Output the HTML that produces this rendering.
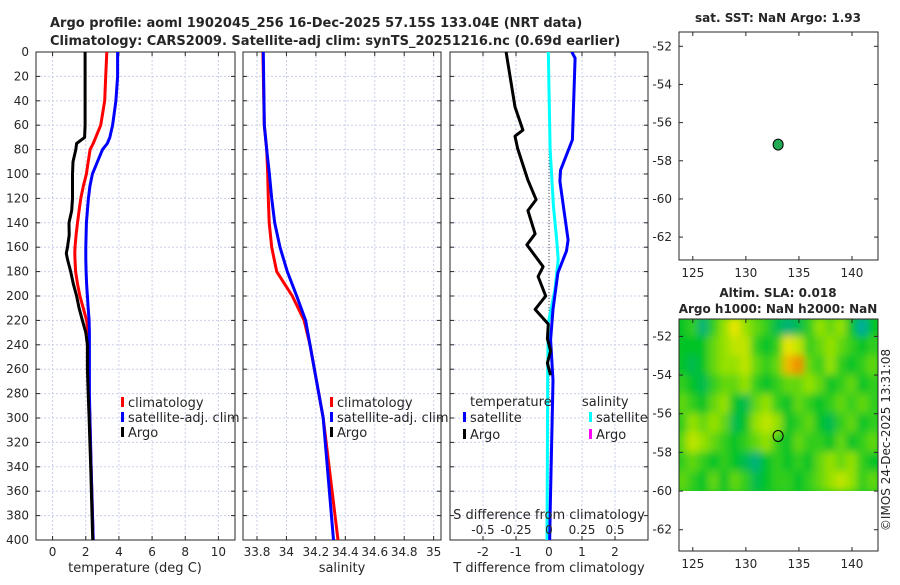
<!DOCTYPE html>
<html><head><meta charset="utf-8"><style>
body{margin:0;background:#fff;}
svg text{font-family:"DejaVu Sans","Liberation Sans",sans-serif;fill:#262626;}
</style></head><body>
<svg id="fig" width="900" height="580" viewBox="0 0 900 580" xmlns="http://www.w3.org/2000/svg">
<defs>
<clipPath id="c1"><rect x="36" y="52" width="199" height="488"/></clipPath>
<clipPath id="c2"><rect x="243" y="52" width="198" height="488"/></clipPath>
<clipPath id="c3"><rect x="450" y="52" width="198" height="488"/></clipPath>
<clipPath id="cm"><rect x="679" y="319" width="199" height="172"/></clipPath>
<filter id="blur" x="-5%" y="-5%" width="110%" height="110%"><feGaussianBlur stdDeviation="4"/></filter>
</defs>
<text x="50" y="27" font-size="13" font-weight="bold">Argo profile: aoml 1902045_256 16-Dec-2025 57.15S 133.04E (NRT data)</text>
<text x="50" y="45" font-size="13" font-weight="bold">Climatology: CARS2009. Satellite-adj clim: synTS_20251216.nc (0.69d earlier)</text>
<text x="778" y="22" font-size="12" font-weight="bold" text-anchor="middle">sat. SST: NaN Argo: 1.93</text>
<text x="778" y="297" font-size="12" font-weight="bold" text-anchor="middle">Altim. SLA: 0.018</text>
<text x="778" y="313" font-size="12" font-weight="bold" text-anchor="middle">Argo h1000: NaN h2000: NaN</text>
<text transform="translate(890,440) rotate(-90)" font-size="12" text-anchor="middle">©IMOS 24-Dec-2025 13:31:08</text>
<g id="plots"></g>
</svg>
<script>
// ---- data ----
const depthT = [0,20,40,60,70,75,80,90,100,110,120,130,140,150,160,165,170,180,190,200,210,220,230,240,260,280,300,340,400];
const argoTemp = [1.96,1.96,1.96,1.96,1.93,1.45,1.4,1.23,1.2,1.2,1.2,1.15,0.99,1.0,0.9,0.83,0.9,1.09,1.25,1.45,1.6,1.8,2.0,2.1,2.1,2.15,2.2,2.3,2.42];
const climTemp = [3.27,3.2,3.14,2.9,2.6,2.45,2.26,2.15,2.04,1.85,1.7,1.6,1.5,1.42,1.35,1.34,1.35,1.39,1.5,1.65,1.85,2.05,2.15,2.2,2.2,2.2,2.25,2.32,2.45];
const satTemp = [3.92,3.92,3.82,3.62,3.45,3.3,3.01,2.7,2.4,2.25,2.16,2.1,2.04,2.02,2.0,2.0,2.0,2.02,2.05,2.1,2.15,2.2,2.22,2.22,2.22,2.22,2.25,2.32,2.45];
const depthS = [0,60,80,100,120,140,160,180,200,220,240,300,400];
const climSal = [33.84,33.85,33.866,33.873,33.877,33.883,33.9,33.934,34.04,34.12,34.16,34.25,34.35];
const satSal = [33.843,33.85,33.866,33.884,33.9,33.92,33.956,34.006,34.07,34.13,34.16,34.25,34.32];
const depthDT = [0,45,64,69,79,105,121,130,149,158,176,184,200,211,223,235,245,255,265];
const argoDT = [-1.3,-1.03,-0.79,-1.03,-0.95,-0.64,-0.39,-0.64,-0.42,-0.67,-0.18,-0.33,-0.1,-0.42,-0.02,-0.05,0.05,-0.05,0.05];
const depthSD = [0,5,72,97,106,154,163,181,211,236,269,372,400];
const satDT = [0.69,0.79,0.71,0.35,0.33,0.58,0.53,0.27,0.12,0.05,0.12,0.04,0.02];
const depthSS = [0,79,126,154,170,195,222,260,330,400];
const satDS = [-0.005,0.008,0.033,0.058,0.07,0.045,-0.005,-0.01,-0.012,-0.015];
const floatLon = 133.04, floatLat = -57.15;
const slaLons = [124,125,126,127,128,129,130,131,132,133,134,135,136,137,138,139,140,141,142];
const slaLats = [-51.5,-52.5,-53.5,-54.5,-55.5,-56.5,-57.5,-58.5,-59.5];
const slaRow0 = [0.3,0.4,0.1,0.4,0.6,0.8,0.6,0.5,0.4,0.2,0.1,0.2,0.4,0.6,0.5,0.6,0.3,0.0,0.3];
const slaRow1 = [0.3,0.3,0.3,0.5,0.6,0.7,0.7,0.4,0.3,0.4,0.8,0.7,0.4,0.5,0.6,0.5,0.4,0.3,0.4];
const slaRow2 = [0.3,0.2,0.3,0.5,0.6,0.6,0.7,0.5,0.4,0.5,0.9,1.0,0.5,0.4,0.6,0.4,0.3,0.4,0.5];
const slaRow3 = [0.4,0.3,0.2,0.4,0.5,0.5,0.6,0.4,0.3,0.4,0.5,0.5,0.6,0.5,0.3,0.4,0.5,0.3,0.4];
const slaRow4 = [0.5,0.4,0.3,0.5,0.6,0.3,0.2,0.5,0.6,0.4,0.3,0.5,0.4,0.3,0.4,0.5,0.4,0.5,0.4];
const slaRow5 = [0.4,0.6,0.5,0.6,0.5,0.2,0.3,0.6,0.7,0.6,0.3,0.4,0.5,0.3,0.2,0.4,0.5,0.3,0.4];
const slaRow6 = [0.5,0.7,0.6,0.5,0.4,0.3,0.4,0.5,0.6,0.4,0.3,0.5,0.4,0.4,0.3,0.5,0.3,0.4,0.5];
const slaRow7 = [0.4,0.5,0.4,0.3,0.4,0.3,0.2,0.1,0.3,0.4,0.3,0.4,0.3,0.5,0.6,0.5,0.6,0.4,0.3];
const slaRow8 = [0.5,0.4,0.3,0.5,0.3,0.5,0.4,0.2,0.3,0.4,0.4,0.3,0.4,0.5,0.6,0.7,0.6,0.4,0.5];
const slaGrid = [slaRow0,slaRow1,slaRow2,slaRow3,slaRow4,slaRow5,slaRow6,slaRow7,slaRow8];
const depthTicks = [0,20,40,60,80,100,120,140,160,180,200,220,240,260,280,300,320,340,360,380,400];
const tempTicks = [0,2,4,6,8,10];
const salTicks = [33.8,34,34.2,34.4,34.6,34.8,35];
const dtTicks = [-2,-1,0,1,2];
const dsTicks = [-0.5,-0.25,0,0.25,0.5];
const lonTicks = [125,130,135,140];
const latTicksTop = [-52,-54,-56,-58,-60,-62];

// ---- helpers ----
const NS='http://www.w3.org/2000/svg';
const root=document.getElementById('plots');
function mk(tag,attrs,parent){const e=document.createElementNS(NS,tag);for(const k in attrs)e.setAttribute(k,attrs[k]);(parent||root).appendChild(e);return e;}
function lin(d0,d1,r0,r1){return v=>r0+(v-d0)/(d1-d0)*(r1-r0);}
const yD=lin(0,400,52,540);

function panel(x0,x1,xs,xticks,fmt,name,gridY){
  const g=mk('g',{});
  
  
  xticks.forEach(t=>{const l=mk('line',{x1:xs(t),x2:xs(t),y1:52,y2:540,stroke:'#c9cfea','stroke-width':1,'stroke-dasharray':'2,2'},g);
    });
  if(gridY) depthTicks.forEach(t=>{const l=mk('line',{x1:x0,x2:x1,y1:yD(t),y2:yD(t),stroke:'#c9cfea','stroke-width':1,'stroke-dasharray':'2,2'},g);
    });
  depthTicks.forEach(t=>{mk('line',{x1:x0,x2:x0+4,y1:yD(t),y2:yD(t),stroke:'#262626'},g);mk('line',{x1:x1-4,x2:x1,y1:yD(t),y2:yD(t),stroke:'#262626'},g);});
  xticks.forEach(t=>{mk('line',{x1:xs(t),x2:xs(t),y1:540,y2:536,stroke:'#262626'},g);mk('line',{x1:xs(t),x2:xs(t),y1:52,y2:56,stroke:'#262626'},g);
    if(fmt){const tx=mk('text',{x:xs(t),y:556,'font-size':12,'text-anchor':'middle'},g);tx.textContent=fmt(t);
    }});
  const r=mk('rect',{x:x0,y:52,width:x1-x0,height:488,fill:'none',stroke:'#262626','stroke-width':1},g);
  
  return g;
}
function line(xs,xv,dv,color,name,clip,w){
  const pts=xv.map((v,i)=>xs(v).toFixed(1)+','+yD(dv[i]).toFixed(1)).join(' ');
  const p=mk('polyline',{points:pts,fill:'none',stroke:color,'stroke-width':w||3,'stroke-linejoin':'round','clip-path':'url(#'+clip+')'});
  
  
}
function txt(x,y,s,opts,name){const t=mk('text',Object.assign({x:x,y:y,'font-size':12},opts||{}));t.textContent=s;
  return t;}
function legend(x,y,color,label,name){
  const r=mk('rect',{x:x,y:y-10,width:3,height:10,fill:color});
  
  txt(x+7,y,label,{'font-size':13},name);
}

// ---- panel 1: temperature ----
const xT=lin(-1,11,36,235);
panel(36,235,xT,tempTicks,t=>String(t),'temperature-panel',true);
depthTicks.forEach(t=>txt(29,yD(t)+4,String(t),{'text-anchor':'end'},'y-tick-label'));
line(xT,climTemp,depthT,'#ff0000','temp-climatology-line','c1');
line(xT,satTemp,depthT,'#0000ff','temp-satellite-line','c1');
line(xT,argoTemp,depthT,'#000000','temp-argo-line','c1');
txt(135,572,'temperature (deg C)',{'font-size':13,'text-anchor':'middle'},'x-axis-title-temperature');
legend(121,407,'#ff0000','climatology','legend-climatology');
legend(121,422,'#0000ff','satellite-adj. clim','legend-satellite');
legend(121,437,'#000000','Argo','legend-argo');

// ---- panel 2: salinity ----
const xS=lin(33.705,35.05,243,441);
panel(243,441,xS,salTicks,t=>String(t),'salinity-panel',true);
line(xS,climSal,depthS,'#ff0000','sal-climatology-line','c2');
line(xS,satSal,depthS,'#0000ff','sal-satellite-line','c2');
txt(342,572,'salinity',{'font-size':13,'text-anchor':'middle'},'x-axis-title-salinity');
legend(330,407,'#ff0000','climatology','legend-climatology-2');
legend(330,422,'#0000ff','satellite-adj. clim','legend-satellite-2');
legend(330,437,'#000000','Argo','legend-argo-2');

// ---- panel 3: differences ----
const xDT=lin(-3,3,450,648);
const xDS=lin(-0.75,0.75,450,648);
panel(450,648,xDT,dtTicks,t=>String(t),'difference-panel',true);
mk('line',{x1:xDT(0),x2:xDT(0),y1:52,y2:yD(285),stroke:'#444','stroke-width':1,'stroke-dasharray':'1,2'});
line(xDS,satDS,depthSS,'#00ffff','sal-diff-satellite-line','c3');
line(xDT,satDT,depthSD,'#0000ff','temp-diff-satellite-line','c3');
line(xDT,argoDT,depthDT,'#000000','temp-diff-argo-line','c3');
txt(549,572,'T difference from climatology',{'font-size':13,'text-anchor':'middle'},'x-axis-title-t-diff');
txt(549,519,'S difference from climatology',{'font-size':13,'text-anchor':'middle'},'x-axis-title-s-diff');
dsTicks.forEach(t=>txt(xDS(t),534,String(t),{'text-anchor':'middle'},'s-diff-tick-label'));
txt(470,406,'temperature',{'font-size':13},'legend-title-temperature');
txt(582,406,'salinity',{'font-size':13},'legend-title-salinity');
legend(463,422,'#0000ff','satellite','legend-t-satellite');
legend(463,439,'#000000','Argo','legend-t-argo');
legend(589,422,'#00ffff','satellite','legend-s-satellite');
legend(589,439,'#ff00ff','Argo','legend-s-argo');

// ---- maps ----
const xL=lin(123.7,142.45,679,878);
function map(y0,y1,latTop,latBot,name,heat){
  const yL=lin(latTop,latBot,y0,y1);
  const g=mk('g',{});
  
  
  if(heat){
    const hg=mk('g',{'clip-path':'url(#cm)'},g);
    mk('rect',{x:679,y:319,width:199,height:172,fill:cmap(0.35)},hg);
    const bg=mk('g',{filter:'url(#blur)'},hg);
    slaGrid.forEach((row,ri)=>row.forEach((v,ci)=>{
      const c=mk('rect',{x:xL(slaLons[ci]-0.5)-0.5,y:yL(slaLats[ri]+0.5)-0.5,width:xL(1)-xL(0)+1,height:yL(-1)-yL(0)+1,fill:cmap(v)},bg);
      
      
    }));
  }
  lonTicks.forEach(t=>{mk('line',{x1:xL(t),x2:xL(t),y1:y1,y2:y1-4,stroke:'#262626'},g);mk('line',{x1:xL(t),x2:xL(t),y1:y0,y2:y0+4,stroke:'#262626'},g);
    txt(xL(t),y1+17,String(t),{'text-anchor':'middle'},'lon-tick-label');});
  latTicksTop.forEach(t=>{mk('line',{x1:679,x2:683,y1:yL(t),y2:yL(t),stroke:'#262626'},g);mk('line',{x1:874,x2:878,y1:yL(t),y2:yL(t),stroke:'#262626'},g);
    txt(672,yL(t)+4,String(t),{'text-anchor':'end'},'lat-tick-label');});
  const r=mk('rect',{x:679,y:y0,width:199,height:y1-y0,fill:'none',stroke:'#262626'},g);
  
  const dot=mk('ellipse',{cx:xL(floatLon),cy:yL(floatLat),rx:5,ry:5.5,fill:heat?'none':'#22aa55',stroke:'#000','stroke-width':1},g);
  
  
}
function cmap(v){
  const stops=[[0,[0,170,160]],[0.3,[0,195,40]],[0.6,[150,225,0]],[0.8,[235,230,0]],[1,[240,140,0]]];
  for(let i=1;i<stops.length;i++){if(v<=stops[i][0]){const a=stops[i-1],b=stops[i],f=(v-a[0])/(b[0]-a[0]);
    return 'rgb('+a[1].map((c,k)=>Math.round(c+f*(b[1][k]-c))).join(',')+')';}}
  return 'rgb(240,140,0)';
}
map(32,260,-51.25,-63.2,'sst-map',false);
map(319,551,-51.1,-63.1,'sla-map',true);
</script>
</body></html>
